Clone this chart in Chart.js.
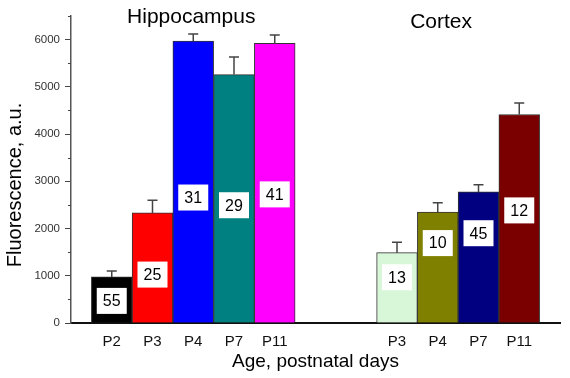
<!DOCTYPE html>
<html>
<head>
<meta charset="utf-8">
<script src="https://cdn.jsdelivr.net/npm/chart.js@4/dist/chart.umd.min.js"></script>
<style>
  html, body { margin: 0; padding: 0; background: #fff; }
  #wrap { width: 570px; height: 378px; }
</style>
</head>
<body>
<div id="wrap"><canvas id="chart" width="570" height="378"></canvas></div>
<script>
// data
const hippoAges = ["P2", "P3", "P4", "P7", "P11"];
const hippoMeans = [975, 2330, 5970, 5260, 5920];
const hippoErrors = [125, 270, 150, 370, 180];
const hippoN = [55, 25, 31, 29, 41];

const cortexAges = ["P3", "P4", "P7", "P11"];
const cortexMeans = [1490, 2350, 2775, 4415];
const cortexErrors = [220, 195, 150, 245];
const cortexN = [13, 10, 45, 12];

const groupTitles = ["Hippocampus", "Cortex"];
const yMax = 6500;

// styling
const hippoColors = ["#000000", "#ff0000", "#0000ff", "#008080", "#ff00ff"];
const cortexColors = ["#d8f7d8", "#808000", "#000080", "#7a0000"];
const hippoLabelFrac = [0.48, 0.44, 0.445, 0.474, 0.46];
const cortexLabelFrac = [0.65, 0.72, 0.685, 0.54];
const FONT = 'Arial, "Liberation Sans", sans-serif';

// build the category axis with empty slots round the groups
const labels = ["", ...hippoAges, "", "", ...cortexAges, ""];
const means = [null, ...hippoMeans, null, null, ...cortexMeans, null];
const errors = [null, ...hippoErrors, null, null, ...cortexErrors, null];
const counts = [null, ...hippoN, null, null, ...cortexN, null];
const colors = ["#fff", ...hippoColors, "#fff", "#fff", ...cortexColors, "#fff"];
const labelFrac = [0, ...hippoLabelFrac, 0, 0, ...cortexLabelFrac, 0];
const hippoIdx = [1, hippoAges.length];
const cortexIdx = [hippoAges.length + 3, hippoAges.length + 2 + cortexAges.length];

const extras = {
  id: "extras",
  afterDatasetsDraw(chart) {
    const { ctx, scales: { x, y } } = chart;
    const bars = chart.getDatasetMeta(0).data;
    ctx.save();

    // upper error bars
    ctx.strokeStyle = "#444";
    ctx.lineWidth = 1.5;
    bars.forEach((bar, i) => {
      if (means[i] == null) return;
      const top = y.getPixelForValue(means[i]);
      const end = y.getPixelForValue(means[i] + errors[i]);
      ctx.beginPath();
      ctx.moveTo(bar.x, top);
      ctx.lineTo(bar.x, end);
      ctx.moveTo(bar.x - 5, end);
      ctx.lineTo(bar.x + 5, end);
      ctx.stroke();
    });

    // n boxes
    ctx.font = "16px " + FONT;
    ctx.textAlign = "center";
    ctx.textBaseline = "middle";
    bars.forEach((bar, i) => {
      if (counts[i] == null) return;
      const cy = y.getPixelForValue(means[i] * labelFrac[i]);
      ctx.fillStyle = "#fff";
      ctx.fillRect(bar.x - 15, cy - 13, 30, 26);
      ctx.fillStyle = "#000";
      ctx.fillText(String(counts[i]), bar.x, cy + 1);
    });

    // minor ticks on the y axis
    ctx.strokeStyle = "#444";
    ctx.lineWidth = 1;
    for (let v = 500; v <= yMax; v += 1000) {
      const py = Math.round(y.getPixelForValue(v)) + 0.5;
      ctx.beginPath();
      ctx.moveTo(x.left - 3, py);
      ctx.lineTo(x.left, py);
      ctx.stroke();
    }

    // group titles
    ctx.fillStyle = "#000";
    ctx.font = "21px " + FONT;
    ctx.textBaseline = "alphabetic";
    const hx = (x.getPixelForValue(hippoIdx[0]) + x.getPixelForValue(hippoIdx[1])) / 2 - 2;
    const cx = (x.getPixelForValue(cortexIdx[0]) + x.getPixelForValue(cortexIdx[1])) / 2 - 17;
    ctx.fillText(groupTitles[0], hx, 23);
    ctx.fillText(groupTitles[1], cx, 28);

    // y axis title
    ctx.font = "20px " + FONT;
    ctx.textBaseline = "middle";
    ctx.translate(15, 185);
    ctx.rotate(-Math.PI / 2);
    ctx.fillText("Fluorescence, a.u.", 0, 0);
    ctx.restore();
  }
};

new Chart(document.getElementById("chart"), {
  type: "bar",
  data: {
    labels: labels,
    datasets: [{
      data: means,
      backgroundColor: colors,
      borderColor: "#333",
      borderWidth: 1,
      barPercentage: 1,
      categoryPercentage: 1
    }]
  },
  options: {
    responsive: false,
    animation: false,
    layout: { padding: { top: 16, right: 7, left: 0, bottom: 0 } },
    plugins: { legend: { display: false }, tooltip: { enabled: false } },
    scales: {
      x: {
        offset: false,
        afterFit(scale) { scale.height = 55; },
        grid: { display: false, drawTicks: false, offset: false },
        border: { display: true, color: "#111", width: 2 },
        ticks: {
          autoSkip: false,
          maxRotation: 0,
          padding: 10,
          color: "#111",
          font: { family: FONT, size: 15 }
        },
        title: {
          display: true,
          text: "Age, postnatal days",
          color: "#000",
          font: { family: FONT, size: 19 },
          padding: { top: 0, bottom: 5 }
        }
      },
      y: {
        min: 0,
        max: yMax,
        afterFit(scale) { scale.width = 71; },
        grid: {
          drawOnChartArea: false,
          tickLength: 6,
          tickColor: (c) => (c.tick && c.tick.value % 1000 === 0 ? "#444" : "rgba(0,0,0,0)")
        },
        border: { display: true, color: "#555", width: 1.5 },
        ticks: {
          stepSize: 500,
          autoSkip: false,
          padding: 5,
          color: "#333",
          font: { family: FONT, size: 11.5 },
          callback: (v) => (v % 1000 === 0 ? v : "")
        }
      }
    }
  },
  plugins: [extras]
});
</script>
</body>
</html>
